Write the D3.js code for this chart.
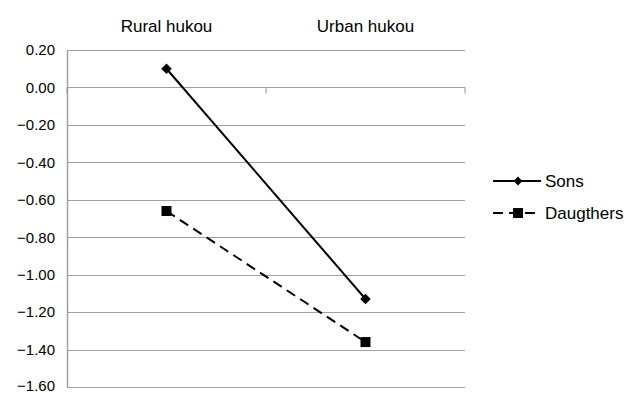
<!DOCTYPE html>
<html>
<head>
<meta charset="utf-8">
<script src="https://cdn.jsdelivr.net/npm/d3@7"></script>
<style>
  body { margin: 0; background: #fff; }
  svg text { font-family: "Liberation Sans", Arial, sans-serif; fill: #000; }
</style>
</head>
<body>
<svg id="chart" width="636" height="393"></svg>
<script>
// data
var categories = ['Rural hukou', 'Urban hukou'];
var sons = [0.10, -1.13];
var daughters = [-0.66, -1.36];
var yTicks = [0.20, 0.00, -0.20, -0.40, -0.60, -0.80, -1.00, -1.20, -1.40, -1.60];

var font = '"Liberation Sans", Arial, sans-serif';

var margin = {top: 50, left: 67},
    width = 398,
    height = 337;

var svg = d3.select('#chart');
var g = svg.append('g')
    .attr('transform', 'translate(' + margin.left + ',' + margin.top + ')');

var xScale = d3.scaleBand().domain(categories).range([0, width]);
var yScale = d3.scaleLinear().domain([-1.6, 0.2]).range([height, 0]);

// gridlines
g.append('g').selectAll('line')
    .data(yTicks)
    .enter().append('line')
    .attr('x1', 0).attr('x2', width)
    .attr('y1', d => Math.round(yScale(d)) + 0.5)
    .attr('y2', d => Math.round(yScale(d)) + 0.5)
    .attr('stroke', '#a0a0a0')
    .attr('stroke-width', 1.2);

// y axis
var yAxis = g.append('g')
    .call(d3.axisLeft(yScale).tickValues(yTicks).tickSize(0).tickPadding(12)
        .tickFormat(d => d3.format('.2f')(d).replace('-', '\u2212')));
yAxis.attr('font-family', font);
yAxis.select('.domain').attr('stroke', '#a0a0a0').attr('stroke-width', 1.5);
yAxis.selectAll('text')
    .style('font-size', '15px')
    .style('font-family', font)
    .attr('dy', d => d === -1.6 ? '0.2em' : '0.32em');

// x axis along zero
var xAxis = g.append('g')
    .attr('transform', 'translate(0,' + (Math.round(yScale(0)) + 0.5) + ')');
xAxis.append('line')
    .attr('x1', 0).attr('x2', width)
    .attr('stroke', '#a0a0a0').attr('stroke-width', 1.2);
xAxis.selectAll('.tick')
    .data([0, width / 2, width])
    .enter().append('line')
    .attr('x1', d => d).attr('x2', d => d)
    .attr('y1', 0).attr('y2', 6)
    .attr('stroke', '#a0a0a0').attr('stroke-width', 1.2);

// category labels on top
g.selectAll('.cat')
    .data(categories)
    .enter().append('text')
    .attr('class', 'cat')
    .attr('x', d => xScale(d) + xScale.bandwidth() / 2)
    .attr('y', -18)
    .attr('text-anchor', 'middle')
    .style('font-family', font)
    .style('font-size', '17px')
    .text(d => d);

var cx = (d, i) => xScale(categories[i]) + xScale.bandwidth() / 2;
var line = d3.line().x((d, i) => cx(d, i)).y(d => yScale(d));

// sons
g.append('path')
    .attr('d', line(sons))
    .attr('fill', 'none').attr('stroke', '#000').attr('stroke-width', 2);
g.selectAll('.dot_sons')
    .data(sons)
    .enter().append('path')
    .attr('class', 'dot_sons')
    .attr('d', d3.symbol(d3.symbolDiamond2, 70)())
    .attr('transform', (d, i) => 'translate(' + cx(d, i) + ',' + yScale(d) + ')')
    .attr('fill', '#000');

// daughters
g.append('path')
    .attr('d', line(daughters))
    .attr('fill', 'none').attr('stroke', '#000').attr('stroke-width', 2)
    .attr('stroke-dasharray', '10,6');
g.selectAll('.dot_daughters')
    .data(daughters)
    .enter().append('rect')
    .attr('class', 'dot_daughters')
    .attr('x', (d, i) => cx(d, i) - 5)
    .attr('y', d => yScale(d) - 5)
    .attr('width', 10).attr('height', 10)
    .attr('fill', '#000');

// legend
var legend = svg.append('g').attr('transform', 'translate(493,0)');
var sonsRow = legend.append('g').attr('transform', 'translate(0,181)');
sonsRow.append('line').attr('x1', 0).attr('x2', 48)
    .attr('stroke', '#000').attr('stroke-width', 2);
sonsRow.append('path')
    .attr('d', d3.symbol(d3.symbolDiamond2, 50)())
    .attr('transform', 'translate(25,0)');
sonsRow.append('text').attr('x', 52).attr('y', 6)
    .style('font-family', font)
    .style('font-size', '17px').text('Sons');

var dauRow = legend.append('g').attr('transform', 'translate(0,213)');
dauRow.append('line').attr('x1', 0).attr('x2', 48)
    .attr('stroke', '#000').attr('stroke-width', 2)
    .attr('stroke-dasharray', '10,6');
dauRow.append('rect').attr('x', 20).attr('y', -5).attr('width', 10).attr('height', 10);
dauRow.append('text').attr('x', 52).attr('y', 6)
    .style('font-family', font)
    .style('font-size', '17px').text('Daugthers');
</script>
</body>
</html>
